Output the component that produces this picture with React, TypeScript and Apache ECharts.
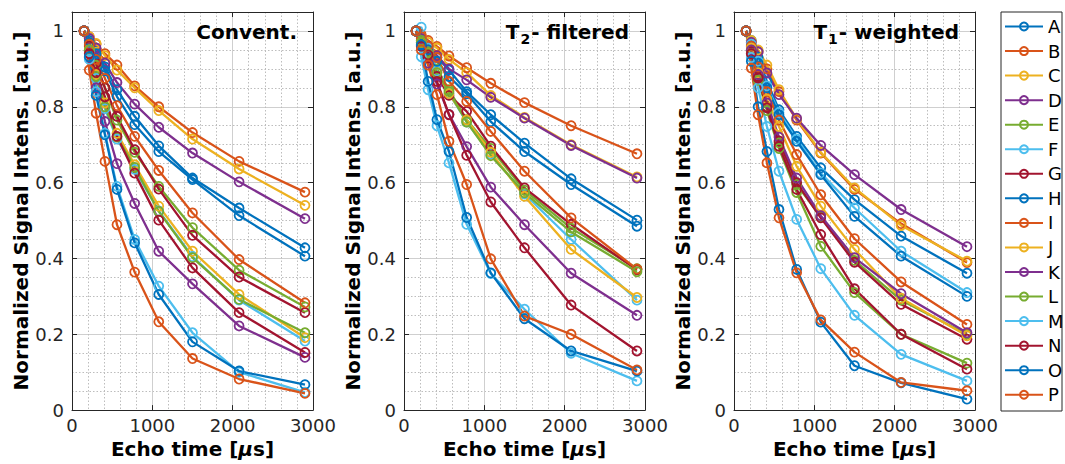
import React, { useEffect, useRef } from "react";
import * as echarts from "echarts";

const echoTimes = [150, 215, 300, 410, 560, 780, 1080, 1500, 2080, 2900];
const seriesNames = ["A", "B", "C", "D", "E", "F", "G", "H", "I", "J", "K", "L", "M", "N", "O", "P"];
const palette = ["#0072BD", "#D95319", "#EDB120", "#7E2F8E", "#77AC30", "#4DBEEE", "#A2142F"];
const yTickLabels = ["0", "0.2", "0.4", "0.6", "0.8", "1"];
const xTickLabels = ["0", "1000", "2000", "3000"];

// Panel 1: Convent.
const conventional = [
  [1, 0.975, 0.945, 0.905, 0.845, 0.775, 0.697, 0.612, 0.533, 0.428], // A
  [1, 0.985, 0.965, 0.94, 0.91, 0.855, 0.8, 0.732, 0.656, 0.575], // B
  [1, 0.985, 0.967, 0.935, 0.897, 0.85, 0.79, 0.715, 0.636, 0.54], // C
  [1, 0.98, 0.955, 0.915, 0.864, 0.807, 0.746, 0.678, 0.602, 0.505], // D
  [1, 0.96, 0.91, 0.85, 0.765, 0.68, 0.59, 0.481, 0.369, 0.272], // E
  [1, 0.945, 0.875, 0.795, 0.715, 0.635, 0.525, 0.405, 0.29, 0.182], // F
  [1, 0.96, 0.915, 0.85, 0.775, 0.687, 0.583, 0.461, 0.351, 0.257], // G
  [1, 0.97, 0.94, 0.895, 0.827, 0.753, 0.682, 0.608, 0.513, 0.406], // H
  [1, 0.965, 0.925, 0.875, 0.803, 0.722, 0.632, 0.52, 0.397, 0.283], // I
  [1, 0.95, 0.885, 0.81, 0.73, 0.647, 0.538, 0.419, 0.305, 0.191], // J
  [1, 0.93, 0.85, 0.761, 0.65, 0.545, 0.419, 0.333, 0.222, 0.139], // K
  [1, 0.95, 0.88, 0.8, 0.72, 0.64, 0.524, 0.402, 0.292, 0.204], // L
  [1, 0.925, 0.84, 0.73, 0.59, 0.45, 0.327, 0.204, 0.1, 0.047], // M
  [1, 0.94, 0.89, 0.826, 0.722, 0.625, 0.501, 0.375, 0.257, 0.152], // N
  [1, 0.932, 0.83, 0.726, 0.582, 0.441, 0.305, 0.18, 0.103, 0.067], // O
  [1, 0.897, 0.783, 0.656, 0.489, 0.364, 0.233, 0.136, 0.082, 0.044], // P
];

// Panel 2: T2-filtered
const t2Filtered = [
  [1, 0.975, 0.955, 0.93, 0.897, 0.84, 0.779, 0.704, 0.61, 0.501], // A
  [1, 0.99, 0.975, 0.959, 0.934, 0.903, 0.862, 0.811, 0.75, 0.676], // B
  [1, 0.985, 0.97, 0.955, 0.925, 0.89, 0.83, 0.772, 0.7, 0.615], // C
  [1, 0.98, 0.96, 0.935, 0.9, 0.871, 0.825, 0.77, 0.698, 0.612], // D
  [1, 0.975, 0.945, 0.9, 0.845, 0.766, 0.69, 0.58, 0.48, 0.373], // E
  [1, 1.01, 0.955, 0.895, 0.835, 0.76, 0.675, 0.57, 0.45, 0.29], // F
  [1, 0.97, 0.93, 0.88, 0.83, 0.788, 0.696, 0.586, 0.49, 0.37], // G
  [1, 0.965, 0.95, 0.92, 0.88, 0.834, 0.761, 0.682, 0.595, 0.485], // H
  [1, 0.985, 0.96, 0.93, 0.867, 0.814, 0.735, 0.63, 0.507, 0.372], // I
  [1, 0.97, 0.94, 0.89, 0.835, 0.765, 0.68, 0.564, 0.424, 0.297], // J
  [1, 0.96, 0.915, 0.86, 0.78, 0.695, 0.588, 0.489, 0.361, 0.25], // K
  [1, 0.97, 0.94, 0.89, 0.84, 0.76, 0.671, 0.573, 0.47, 0.365], // L
  [1, 0.932, 0.845, 0.75, 0.652, 0.49, 0.36, 0.266, 0.15, 0.077], // M
  [1, 0.96, 0.937, 0.867, 0.779, 0.672, 0.549, 0.428, 0.277, 0.156], // N
  [1, 0.963, 0.867, 0.766, 0.682, 0.508, 0.362, 0.241, 0.156, 0.103], // O
  [1, 0.95, 0.91, 0.832, 0.709, 0.595, 0.399, 0.248, 0.2, 0.106], // P
];

// Panel 3: T1-weighted
const t1Weighted = [
  [1, 0.975, 0.93, 0.867, 0.792, 0.722, 0.639, 0.555, 0.459, 0.361], // A
  [1, 0.97, 0.945, 0.9, 0.84, 0.765, 0.678, 0.582, 0.492, 0.389], // B
  [1, 0.975, 0.95, 0.91, 0.845, 0.768, 0.68, 0.586, 0.487, 0.393], // C
  [1, 0.97, 0.945, 0.889, 0.832, 0.77, 0.698, 0.621, 0.529, 0.431], // D
  [1, 0.95, 0.88, 0.8, 0.705, 0.595, 0.51, 0.395, 0.29, 0.2], // E
  [1, 0.965, 0.92, 0.855, 0.785, 0.715, 0.625, 0.533, 0.419, 0.31], // F
  [1, 0.945, 0.88, 0.8, 0.71, 0.6, 0.507, 0.39, 0.279, 0.187], // G
  [1, 0.96, 0.915, 0.85, 0.779, 0.709, 0.621, 0.511, 0.406, 0.3], // H
  [1, 0.96, 0.905, 0.84, 0.765, 0.674, 0.568, 0.452, 0.338, 0.226], // I
  [1, 0.955, 0.89, 0.82, 0.748, 0.643, 0.538, 0.424, 0.295, 0.196], // J
  [1, 0.95, 0.885, 0.81, 0.72, 0.612, 0.513, 0.402, 0.307, 0.204], // K
  [1, 0.94, 0.87, 0.79, 0.69, 0.574, 0.432, 0.31, 0.2, 0.124], // L
  [1, 0.93, 0.85, 0.748, 0.63, 0.503, 0.373, 0.25, 0.147, 0.077], // M
  [1, 0.94, 0.876, 0.797, 0.696, 0.582, 0.463, 0.32, 0.2, 0.108], // N
  [1, 0.92, 0.8, 0.682, 0.529, 0.371, 0.232, 0.117, 0.072, 0.029], // O
  [1, 0.902, 0.779, 0.652, 0.507, 0.362, 0.238, 0.153, 0.073, 0.051], // P
];

const panels = [conventional, t2Filtered, t1Weighted];
const panelTitles = ["{a|Convent.}", "{a|T}{s|2}{a|- filtered}", "{a|T}{s|1}{a|- weighted}"];

const FONT = '"DejaVu Sans", sans-serif';
const AX = "#262626";
const panelLefts = [72, 404, 734];
const PANEL_W = 241;
const TOP = 12;
const PANEL_H = 399;

export default function App() {
  const ref = useRef<HTMLDivElement>(null);

  useEffect(() => {
    if (!ref.current) return;
    const chart = echarts.init(ref.current, undefined, { renderer: "svg" });

    const grid: any[] = [];
    const xAxis: any[] = [];
    const yAxis: any[] = [];
    const series: any[] = [];
    const graphic: any[] = [];

    panels.forEach((data, p) => {
      grid.push({ left: panelLefts[p], top: TOP, width: PANEL_W, height: PANEL_H });
      xAxis.push({
        gridIndex: p,
        type: "value",
        position: "bottom",
        min: 0,
        max: 3000,
        interval: 1000,
        axisLine: { show: true, onZero: false, lineStyle: { color: AX, width: 1 } },
        axisTick: { show: true, inside: true, length: 5, lineStyle: { color: AX } },
        axisLabel: {
          color: AX,
          fontSize: 18,
          fontFamily: FONT,
          margin: 6,
          formatter: (v: number) => xTickLabels[Math.round(v / 1000)] ?? "",
        },
        splitLine: { show: true, lineStyle: { color: "#cfcfcf", width: 1 } },
        minorTick: { show: false, splitNumber: 5 },
        minorSplitLine: { show: true, lineStyle: { color: "#bdbdbd", width: 1, type: [1.5, 2] } },
        name: "Echo time [{i|μ}s]",
        nameLocation: "middle",
        nameGap: 27,
        nameTextStyle: {
          color: "#000",
          fontSize: 20,
          fontWeight: "bold",
          fontFamily: FONT,
          rich: { i: { fontStyle: "italic", fontWeight: "bold", fontSize: 20, fontFamily: FONT, color: "#000" } },
        },
      });
      xAxis.push({
        gridIndex: p,
        type: "value",
        position: "top",
        min: 0,
        max: 3000,
        interval: 1000,
        axisLine: { show: true, onZero: false, lineStyle: { color: AX, width: 1 } },
        axisTick: { show: true, inside: true, length: 5, lineStyle: { color: AX } },
        axisLabel: { show: false },
        splitLine: { show: false },
      });
      // minor (dotted) y grid
      yAxis.push({
        gridIndex: p,
        type: "value",
        position: "left",
        min: 0,
        max: 1.05,
        interval: 0.05,
        axisLine: { show: false },
        axisTick: { show: false },
        axisLabel: { show: false },
        splitLine: { show: true, lineStyle: { color: "#bdbdbd", width: 1, type: [1.5, 2] } },
      });
      // major y axis
      yAxis.push({
        gridIndex: p,
        type: "value",
        position: "left",
        min: 0,
        max: 1.05,
        interval: 0.2,
        axisLine: { show: true, onZero: false, lineStyle: { color: AX, width: 1 } },
        axisTick: { show: true, inside: true, length: 5, lineStyle: { color: AX } },
        axisLabel: {
          color: AX,
          fontSize: 18,
          fontFamily: FONT,
          margin: 8,
          formatter: (v: number) => (v > 1.001 ? "" : yTickLabels[Math.round(v * 5)] ?? ""),
        },
        splitLine: { show: true, lineStyle: { color: "#cfcfcf", width: 1 } },
        name: "Normalized Signal Intens. [a.u.]",
        nameLocation: "middle",
        nameGap: 40,
        nameTextStyle: { color: "#000", fontSize: 20, fontWeight: "bold", fontFamily: FONT },
      });
      // right frame
      yAxis.push({
        gridIndex: p,
        type: "value",
        position: "right",
        min: 0,
        max: 1.05,
        interval: 0.2,
        axisLine: { show: true, onZero: false, lineStyle: { color: AX, width: 1 } },
        axisTick: { show: true, inside: true, length: 5, lineStyle: { color: AX } },
        axisLabel: { show: false },
        splitLine: { show: false },
      });

      data.forEach((vals, i) => {
        const c = palette[i % palette.length];
        series.push({
          type: "line",
          name: seriesNames[i],
          xAxisIndex: p * 2,
          yAxisIndex: p * 3 + 1,
          data: echoTimes.map((t, j) => [t, vals[j]]),
          symbol: "circle",
          symbolSize: 9,
          showSymbol: true,
          clip: false,
          silent: true,
          lineStyle: { color: c, width: 2.3 },
          itemStyle: { color: "rgba(255,255,255,0)", borderColor: c, borderWidth: 1.8 },
          emphasis: { disabled: true },
        });
      });

      graphic.push({
        type: "text",
        x: panelLefts[p] + PANEL_W - 16,
        y: 32,
        z: 10,
        style: {
          text: panelTitles[p],
          align: "right",
          verticalAlign: "middle",
          rich: {
            a: { fontSize: 20, fontWeight: "bold", fontFamily: FONT, fill: "#000", color: "#000" },
            s: {
              fontSize: 14,
              fontWeight: "bold",
              fontFamily: FONT,
              fill: "#000",
              color: "#000",
              padding: [14, 1, 0, 1],
            },
          },
        },
      });
    });

    graphic.push({
      type: "rect",
      z: 0,
      shape: { x: 1001, y: TOP, width: 61, height: PANEL_H },
      style: { fill: "#fff", stroke: AX, lineWidth: 1 },
    });

    chart.setOption({
      animation: false,
      backgroundColor: "#fff",
      grid,
      xAxis,
      yAxis,
      series,
      graphic,
      legend: {
        orient: "vertical",
        left: 1004,
        top: 17.5,
        padding: 0,
        itemGap: 6.55,
        itemWidth: 38,
        itemHeight: 10,
        selectedMode: false,
        data: seriesNames,
        textStyle: { fontSize: 18, fontFamily: FONT, color: "#000", lineHeight: 18 },
        z: 20,
      },
    });

    return () => chart.dispose();
  }, []);

  return (
    <div
      ref={ref}
      style={{ position: "fixed", left: 0, top: 0, width: 1065, height: 464, background: "#fff" }}
    />
  );
}
